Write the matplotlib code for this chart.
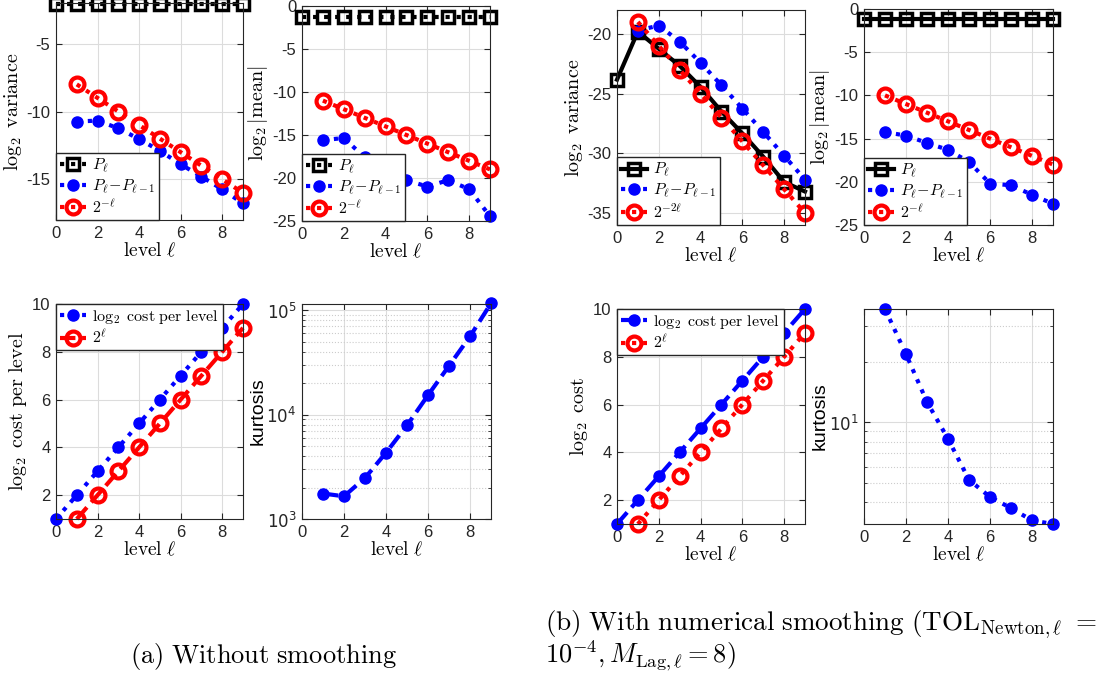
import numpy as np
import matplotlib.pyplot as plt

plt.rcParams['font.family'] = ['Liberation Sans', 'DejaVu Sans']
plt.rcParams['mathtext.fontset'] = 'cm'
plt.rcParams['axes.unicode_minus'] = False

# ---- data ----
lev = [0, 1, 2, 3, 4, 5, 6, 7, 8, 9]
lev1 = [1, 2, 3, 4, 5, 6, 7, 8, 9]

# (a) without smoothing
a_var_P = [-2.1, -2.1, -2.1, -2.1, -2.1, -2.1, -2.1, -2.1, -2.1, -2.1]
a_var_dP = [-10.74, -10.67, -11.24, -12.03, -12.9, -13.89, -14.8, -15.74, -16.78]
a_var_ref = [-8, -9, -10, -11, -12, -13, -14, -15, -16]
a_mean_P = [-1.3, -1.3, -1.3, -1.3, -1.3, -1.3, -1.3, -1.3, -1.3, -1.3]
a_mean_dP = [-15.6, -15.35, -17.6, -18.3, -20.25, -21.0, -20.25, -21.3, -24.45]
a_mean_ref = [-11, -12, -13, -14, -15, -16, -17, -18, -19]
a_cost = [1, 2, 3, 4, 5, 6, 7, 8, 9, 10]
a_cost_ref = [1, 2, 3, 4, 5, 6, 7, 8, 9]
a_kurt = [1755, 1650, 2477, 4315, 7890, 15360, 29400, 56200, 116700]

# (b) with numerical smoothing
b_var_P = [-23.83, -19.8, -21.25, -22.67, -24.44, -26.5, -28.33, -30.28, -32.4, -33.2]
b_var_dP = [-19.72, -19.3, -20.64, -22.42, -24.3, -26.25, -28.2, -30.2, -32.2]
b_var_ref = [-19, -21, -23, -25, -27, -29, -31, -33, -35]
b_mean_P = [-1.1, -1.1, -1.1, -1.1, -1.1, -1.1, -1.1, -1.1, -1.1, -1.1]
b_mean_dP = [-14.25, -14.65, -15.5, -16.3, -17.7, -20.2, -20.4, -21.5, -22.55]
b_mean_ref = [-10, -11, -12, -13, -14, -15, -16, -17, -18]
b_cost = [1, 2, 3, 4, 5, 6, 7, 8, 9, 10]
b_cost_ref = [1, 2, 3, 4, 5, 6, 7, 8, 9]
b_kurt = [36.6, 21.8, 12.6, 8.26, 5.16, 4.24, 3.73, 3.24, 3.11]

W, H = 1110, 676
fig = plt.figure(figsize=(W / 100, H / 100), dpi=100)


def make_ax(l, r, t, b):
    ax = fig.add_axes([l / W, 1 - b / H, (r - l) / W, (b - t) / H])
    ax.grid(True, which='major', color='#dcdcdc', lw=0.8)
    ax.set_axisbelow(True)
    ax.tick_params(which='both', direction='in', top=True, right=True,
                   labelsize=12, colors='#262626', length=4, pad=4)
    ax.tick_params(which='minor', length=2)
    for s in ax.spines.values():
        s.set_color('#262626')
        s.set_linewidth(0.8)
    ax.set_xlim(0, 9)
    ax.set_xticks([0, 2, 4, 6, 8])
    ax.set_xlabel(r'$\mathrm{level}\ \ell$', fontsize=14, labelpad=1)
    return ax


blk = dict(color='k', marker='s', ms=8, mfc='none', mew=2.5, lw=3, clip_on=False)
blu = dict(color='b', marker='o', ms=8, mfc='b', mec='b', lw=3, clip_on=False)
red = dict(color='r', marker='o', ms=10, mfc='none', mew=3, lw=3, clip_on=False)
leg_kw = dict(fontsize=11.5, fancybox=False, edgecolor='#262626', framealpha=1,
              handlelength=1.6, borderpad=0.25, labelspacing=0.15, handletextpad=0.4,
              borderaxespad=0)

lab_P = r'$P_\ell$'
lab_dP = r'$P_\ell\!-\!P_{\ell-1}$'

# (a) variance
ax = make_ax(56, 243, 3, 220)
ax.plot(lev, a_var_P, ls=':', label=lab_P, **blk)
ax.plot(lev1, a_var_dP, ls=':', label=lab_dP, **blu)
ax.plot(lev1, a_var_ref, ls=':', label=r'$2^{-\ell}$', **red)
ax.set_ylim(-18, -2)
ax.set_yticks([-15, -10, -5])
ax.set_ylabel(r'$\log_2\ \mathrm{variance}$', fontsize=14.5, labelpad=2)
ax.legend(loc='lower left', **leg_kw)

# (a) mean
ax = make_ax(302, 490, 6, 221)
ax.plot(lev, a_mean_P, ls=':', label=lab_P, **blk)
ax.plot(lev1, a_mean_dP, ls=':', label=lab_dP, **blu)
ax.plot(lev1, a_mean_ref, ls=':', label=r'$2^{-\ell}$', **red)
ax.set_ylim(-25, 0)
ax.set_yticks([-25, -20, -15, -10, -5, 0])
ax.set_ylabel(r'$\log_2|\mathrm{mean}|$', fontsize=14.5, labelpad=2)
ax.legend(loc='lower left', **leg_kw)

# (a) cost
ax = make_ax(56, 243, 304, 519)
ax.plot(lev, a_cost, ls=':', label=r'$\log_2\ \mathrm{cost\ per\ level}$', **blu)
ax.plot(lev1, a_cost_ref, ls=(0, (3.7, 1.6)), label=r'$2^\ell$', **red)
ax.set_ylim(1, 10)
ax.set_yticks([2, 4, 6, 8, 10])
ax.set_ylabel(r'$\log_2\ \mathrm{cost\ per\ level}$', fontsize=14.5, labelpad=2)
ax.legend(loc='upper left', **leg_kw)

# (a) kurtosis
ax = make_ax(302, 491, 304, 519)
ax.set_yscale('log')
ax.plot(lev1, a_kurt, ls='--', **blu)
ax.set_ylim(1e3, 1.15e5)
ax.set_yticks([1e3, 1e4, 1e5], [r'$10^3$', r'$10^4$', r'$10^5$'],
              math_fontfamily='dejavusans')
ax.grid(True, which='minor', color='#cccccc', ls=':', lw=0.8)
ax.set_ylabel('kurtosis', fontsize=14, labelpad=0)

# (b) variance
ax = make_ax(617, 805, 10, 225)
ax.plot(lev, b_var_P, ls='-', label=lab_P, **blk)
ax.plot(lev1, b_var_dP, ls=':', label=lab_dP, **blu)
ax.plot(lev1, b_var_ref, ls=':', label=r'$2^{-2\ell}$', **red)
ax.set_ylim(-36, -18)
ax.set_yticks([-35, -30, -25, -20])
ax.set_ylabel(r'$\log_2\ \mathrm{variance}$', fontsize=14.5, labelpad=2)
ax.legend(loc='lower left', **leg_kw)

# (b) mean
ax = make_ax(864, 1053, 9, 225)
ax.plot(lev, b_mean_P, ls='-', label=lab_P, **blk)
ax.plot(lev1, b_mean_dP, ls=':', label=lab_dP, **blu)
ax.plot(lev1, b_mean_ref, ls=':', label=r'$2^{-\ell}$', **red)
ax.set_ylim(-25, 0)
ax.set_yticks([-25, -20, -15, -10, -5, 0])
ax.set_ylabel(r'$\log_2|\mathrm{mean}|$', fontsize=14.5, labelpad=2)
ax.legend(loc='lower left', **leg_kw)

# (b) cost
ax = make_ax(617, 805, 309, 524)
ax.plot(lev, b_cost, ls=(0, (3.7, 1.6)), label=r'$\log_2\ \mathrm{cost\ per\ level}$', **blu)
ax.plot(lev1, b_cost_ref, ls=':', label=r'$2^\ell$', **red)
ax.set_ylim(1, 10)
ax.set_yticks([2, 4, 6, 8, 10])
ax.set_ylabel(r'$\log_2\ \mathrm{cost}$', fontsize=14.5, labelpad=2)
ax.legend(loc='upper left', **leg_kw)

# (b) kurtosis
ax = make_ax(864, 1053, 309, 524)
ax.set_yscale('log')
ax.plot(lev1, b_kurt, ls=':', **blu)
ax.set_ylim(3.11, 36.6)
ax.set_yticks([10], [r'$10^1$'], math_fontfamily='dejavusans')
ax.yaxis.set_minor_formatter(plt.NullFormatter())
ax.grid(True, which='minor', color='#cccccc', ls=':', lw=0.8)
ax.set_ylabel('kurtosis', fontsize=14, labelpad=0)

# captions
fig.text(130 / W, 1 - 656 / H, r'$\mathrm{(a)\ Without\ smoothing}$',
         fontsize=19, va='center', ha='left')
fig.text(545 / W, 1 - 625 / H,
         r'$\mathrm{(b)\ With\ numerical\ smoothing\ (TOL_{Newton,\ell}\ =}$',
         fontsize=19.5, va='center', ha='left')
fig.text(545 / W, 1 - 656 / H, r'$10^{-4}, M_{\mathrm{Lag},\ell} = 8)$',
         fontsize=19, va='center', ha='left')

fig.savefig('out.png', dpi=100)
